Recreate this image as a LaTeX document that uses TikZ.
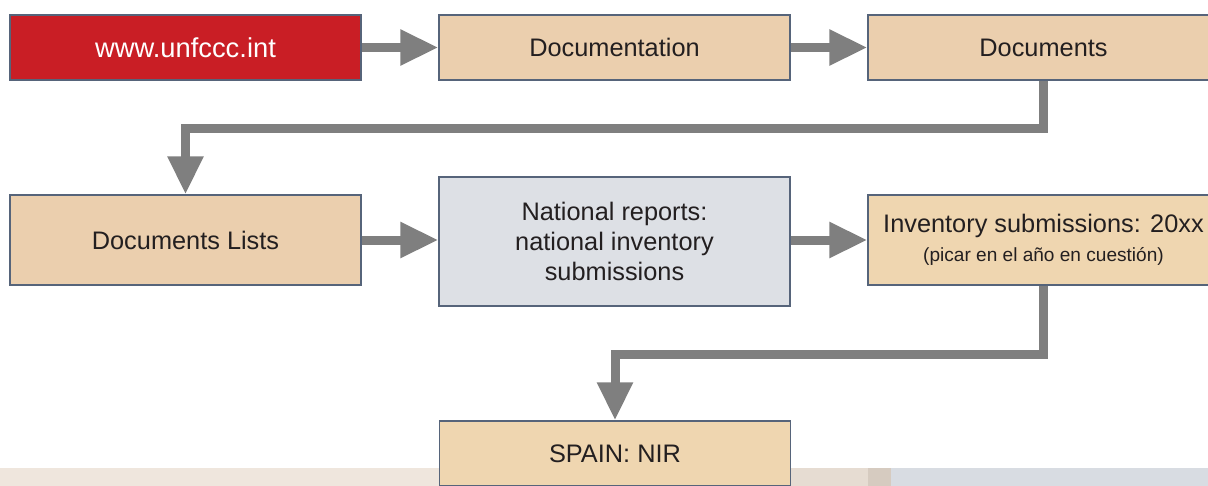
\documentclass[tikz,border=0pt]{standalone}
\usepackage{fontspec}
\setmainfont{Liberation Sans}
\usetikzlibrary{arrows.meta}
\definecolor{redbox}{HTML}{C91E25}
\definecolor{tanA}{HTML}{EBCFAE}
\definecolor{tanB}{HTML}{EFD6B0}
\definecolor{grayblue}{HTML}{DDE0E5}
\definecolor{edgecol}{HTML}{56647A}
\definecolor{arrowgray}{HTML}{7F7F7F}
\definecolor{ink}{HTML}{231F20}
\definecolor{bandA}{HTML}{EFE6DD}
\definecolor{bandB}{HTML}{E6DCD2}
\definecolor{bandC}{HTML}{D6CBC0}
\definecolor{bandD}{HTML}{D8DCE2}
\begin{document}
\begin{tikzpicture}[x=0.75pt,y=-0.75pt,
  box/.style={draw=edgecol, line width=1.1pt, minimum width=263.25pt, inner sep=0pt,
    text=ink, font=\fontsize{19}{22.5}\selectfont, align=center},
  flow/.style={draw=arrowgray, line width=6.75pt,
    -{Triangle[length=28.5pt,width=25.5pt]}}]
\useasboundingbox (0,0) rectangle (1208,486);
\clip (0,0) rectangle (1208,486);
% bottom band
\fill[bandA] (0,468) rectangle (790,486);
\fill[bandB] (790,468) rectangle (868,486);
\fill[bandC] (868,468) rectangle (891,486);
\fill[bandD] (891,468) rectangle (1208,486);
% boxes
\node[box, fill=redbox, text=white, minimum height=48.75pt,
  font=\fontsize{20.5}{24}\selectfont] (web) at (185.5,47.5) {www.unfccc.int};
\node[box, fill=tanA, minimum height=48.75pt] (doc) at (614.5,47.5) {Documentation};
\node[box, fill=tanA, minimum height=48.75pt] (docs) at (1043.5,47.5) {Documents};
\node[box, fill=tanA, minimum height=67.5pt] (lists) at (185.5,240) {Documents Lists};
\node[box, fill=grayblue, minimum height=96.75pt] (nat) at (614.5,241.5)
  {National reports:\\national inventory\\submissions};
\node[box, fill=tanB, minimum height=67.5pt] (inv) at (1043.5,240)
  {Inventory submissions: 20xx\\[-1pt]{\fontsize{14.3}{17}\selectfont (picar en el año en cuestión)}};
\node[box, fill=tanB, minimum height=48.75pt] (spain) at (615,453.5) {SPAIN: NIR};
% connectors
\coordinate (j1) at (0,128);
\coordinate (j2) at (0,354);
\draw[flow] (web.east) -- (doc.west);
\draw[flow] (doc.east) -- (docs.west);
\draw[flow] (docs.south) -- (docs.south |- j1) -| (lists.north);
\draw[flow] (lists.east) -- (nat.west |- lists.east);
\draw[flow] (nat.east |- inv.west) -- (inv.west);
\draw[flow] (inv.south) -- (inv.south |- j2) -| (spain.north);
\end{tikzpicture}
\end{document}
